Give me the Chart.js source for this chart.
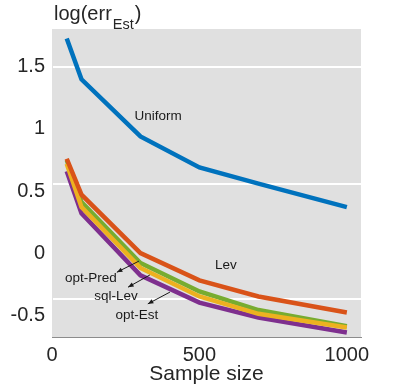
<!DOCTYPE html>
<html>
<head>
<meta charset="utf-8">
<script src="https://cdn.jsdelivr.net/npm/chart.js@4"></script>
<style>
html, body { margin: 0; padding: 0; background: #fff; }
#wrap { width: 399px; height: 387px; position: relative; }
</style>
</head>
<body>
<div id="wrap"><canvas id="myChart"></canvas></div>
<script>
// Data
const sampleSizes = [50, 100, 300, 500, 700, 1000];
const uniform = [1.73, 1.40, 0.94, 0.69, 0.56, 0.37];
const lev     = [0.76, 0.47, 0.00, -0.22, -0.35, -0.48];
const sqlLev  = [0.72, 0.37, -0.12, -0.35, -0.49, -0.60];
const optPred = [0.75, 0.41, -0.08, -0.31, -0.46, -0.59];
const optEst  = [0.66, 0.32, -0.18, -0.40, -0.52, -0.64];

const xTicks = [0, 500, 1000];
const yTicks = [-0.5, 0, 0.5, 1, 1.5];
// white stripes across the grey background (y values)
const whiteLines = [1.5, 0.56, -0.37];

const FONT = "'Liberation Sans', Arial, Helvetica, sans-serif";

function pts(ys) {
    return sampleSizes.map((x, i) => ({ x: x, y: ys[i] }));
}

function series(label, ys, color) {
    return {
        label: label,
        data: pts(ys),
        borderColor: color,
        backgroundColor: color,
        borderWidth: 4.5,
        pointRadius: 0,
        tension: 0,
        borderCapStyle: 'butt',
        borderJoinStyle: 'miter'
    };
}

// text labels and arrows, in data units
const labels = [
    { text: 'Uniform', x: 360, y: 1.10 },
    { text: 'Lev', x: 590, y: -0.10 },
    { text: 'opt-Pred', x: 132, y: -0.20 },
    { text: 'sql-Lev', x: 217, y: -0.35 },
    { text: 'opt-Est', x: 288, y: -0.50 }
];
const arrows = [
    { x1: 295, y1: -0.065, x2: 220, y2: -0.155 },
    { x1: 332, y1: -0.177, x2: 258, y2: -0.275 },
    { x1: 400, y1: -0.315, x2: 325, y2: -0.41 }
];

const backdrop = {
    id: 'backdrop',
    beforeDatasetsDraw(chart) {
        const { ctx, chartArea: a, scales } = chart;
        ctx.save();
        ctx.fillStyle = '#e0e0e0';
        ctx.fillRect(a.left, a.top, a.right - a.left, a.bottom - a.top);
        ctx.strokeStyle = '#ffffff';
        ctx.lineWidth = 2;
        whiteLines.forEach(v => {
            const y = Math.round(scales.y.getPixelForValue(v));
            ctx.beginPath();
            ctx.moveTo(a.left + 1, y);
            ctx.lineTo(a.right, y);
            ctx.stroke();
        });
        ctx.restore();
    }
};

const notes = {
    id: 'notes',
    afterDatasetsDraw(chart) {
        const { ctx, scales } = chart;
        const sx = scales.x, sy = scales.y;
        ctx.save();
        ctx.fillStyle = '#1a1a1a';
        ctx.font = '13.5px ' + FONT;
        ctx.textAlign = 'center';
        ctx.textBaseline = 'middle';
        labels.forEach(l => {
            ctx.fillText(l.text, sx.getPixelForValue(l.x), sy.getPixelForValue(l.y));
        });
        ctx.strokeStyle = '#1a1a1a';
        ctx.lineWidth = 1;
        arrows.forEach(a => {
            const x1 = sx.getPixelForValue(a.x1), y1 = sy.getPixelForValue(a.y1);
            const x2 = sx.getPixelForValue(a.x2), y2 = sy.getPixelForValue(a.y2);
            ctx.beginPath();
            ctx.moveTo(x1, y1);
            ctx.lineTo(x2, y2);
            ctx.stroke();
            const ang = Math.atan2(y2 - y1, x2 - x1);
            const len = 6;
            ctx.beginPath();
            ctx.moveTo(x2, y2);
            ctx.lineTo(x2 - len * Math.cos(ang - 0.4), y2 - len * Math.sin(ang - 0.4));
            ctx.lineTo(x2 - len * Math.cos(ang + 0.4), y2 - len * Math.sin(ang + 0.4));
            ctx.closePath();
            ctx.fill();
        });
        // y axis title with subscript
        const a = chart.chartArea;
        ctx.textAlign = 'left';
        ctx.textBaseline = 'alphabetic';
        ctx.fillStyle = '#262626';
        ctx.font = '20px ' + FONT;
        let x = a.left + 2;
        const base = 20;
        ctx.fillText('log(err', x, base);
        x += ctx.measureText('log(err').width + 1;
        ctx.font = '14.5px ' + FONT;
        ctx.fillText('Est', x, base + 9);
        x += ctx.measureText('Est').width + 1;
        ctx.font = '20px ' + FONT;
        ctx.fillText(')', x, base);
        ctx.restore();
    }
};

const ctx = document.getElementById('myChart').getContext('2d');
const myChart = new Chart(ctx, {
    type: 'line',
    data: {
        datasets: [
            series('Uniform', uniform, '#0072bd'),
            series('Lev', lev, '#d95319'),
            series('sql-Lev', sqlLev, '#edb120'),
            series('opt-Pred', optPred, '#77ac30'),
            series('opt-Est', optEst, '#7e2f8e')
        ]
    },
    options: {
        responsive: true,
        maintainAspectRatio: false,
        animation: false,
        devicePixelRatio: 1,
        layout: { padding: { top: 29, right: 38, left: 0, bottom: 0 } },
        plugins: {
            legend: { display: false },
            tooltip: { enabled: false }
        },
        scales: {
            x: {
                type: 'linear',
                min: 0,
                max: 1048,
                afterBuildTicks: s => { s.ticks = xTicks.map(v => ({ value: v })); },
                afterFit: s => { s.height = 50; },
                grid: { display: false, drawTicks: false },
                border: { display: true, color: '#8c8c8c', width: 1 },
                ticks: {
                    color: '#262626',
                    font: { family: FONT, size: 20 },
                    padding: 6,
                    maxRotation: 0,
                    callback: v => String(v)
                },
                title: {
                    display: true,
                    text: 'Sample size',
                    color: '#262626',
                    font: { family: FONT, size: 21 },
                    padding: { top: -4, bottom: 0 }
                }
            },
            y: {
                min: -0.677,
                max: 1.806,
                afterBuildTicks: s => { s.ticks = yTicks.map(v => ({ value: v })); },
                afterFit: s => { s.width = 52; },
                grid: { display: false, drawTicks: false },
                border: { display: true, color: '#8c8c8c', width: 1 },
                ticks: {
                    color: '#262626',
                    font: { family: FONT, size: 20 },
                    padding: 7,
                    callback: v => String(v)
                }
            }
        }
    },
    plugins: [backdrop, notes]
});
</script>
</body>
</html>
